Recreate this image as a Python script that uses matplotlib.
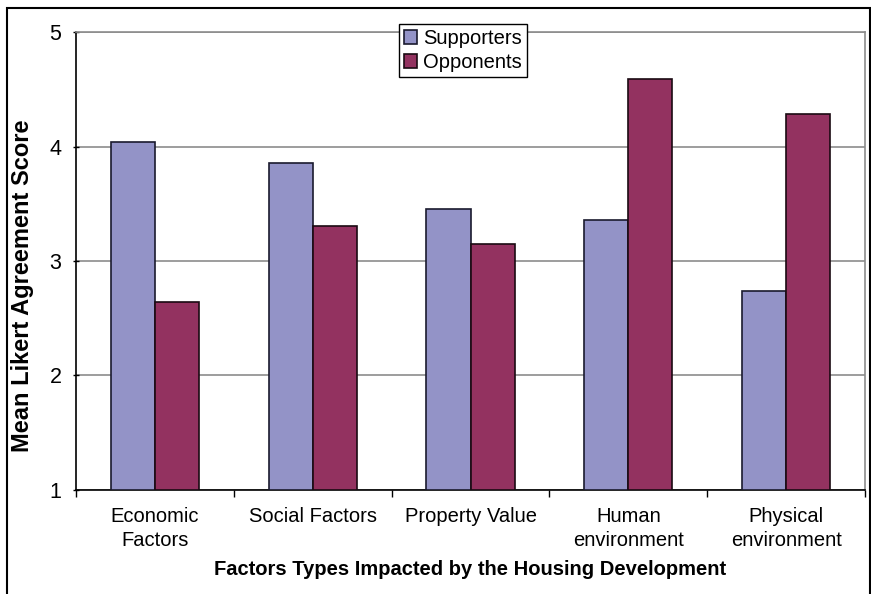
import numpy as np
import matplotlib.pyplot as plt
from matplotlib.patches import Rectangle

# mean scores per factor type
categories = ["Economic\nFactors", "Social Factors", "Property Value",
              "Human\nenvironment", "Physical\nenvironment"]
supporters = [4.04, 3.86, 3.45, 3.36, 2.74]
opponents = [2.64, 3.31, 3.15, 4.59, 4.28]

plt.rcParams['font.family'] = ['Liberation Sans', 'DejaVu Sans']

fig = plt.figure(figsize=(8.71, 5.94), dpi=100)
ax = fig.add_axes([0.0873, 0.1751, 0.9058, 0.7710])

x = np.arange(len(categories))
w = 0.28
ax.bar(x - w / 2, np.array(supporters) - 1, w, bottom=1, color='#9393c7',
       edgecolor='#1a1a2e', linewidth=1.2, label='Supporters', zorder=3)
ax.bar(x + w / 2, np.array(opponents) - 1, w, bottom=1, color='#933260',
       edgecolor='#1a0a12', linewidth=1.2, label='Opponents', zorder=3)

ax.set_xlim(-0.5, len(categories) - 0.5)
ax.set_ylim(1, 5)
ax.set_yticks([1, 2, 3, 4, 5])
ax.yaxis.grid(True, color='#8c8c8c', linewidth=1.2, zorder=0)

ax.set_xticks(x)
ax.set_xticklabels(categories, fontsize=14.5, linespacing=1.35)
ax.set_xticks(np.arange(-0.5, len(categories)), minor=True)
ax.tick_params(axis='x', which='major', length=0, pad=12)
ax.tick_params(axis='x', which='minor', length=5, direction='out', width=1)
ax.tick_params(axis='y', labelsize=15.5, length=5, direction='inout', width=1, pad=8)

for s in ['top', 'right']:
    ax.spines[s].set_color('#8c8c8c')
    ax.spines[s].set_linewidth(1.2)
for s in ['left', 'bottom']:
    ax.spines[s].set_color('black')
    ax.spines[s].set_linewidth(1.2)

ax.set_xlabel('Factors Types Impacted by the Housing Development',
              fontsize=14.5, fontweight='bold', labelpad=7)
ax.set_ylabel('Mean Likert Agreement Score', fontsize=17,
              fontweight='bold', va='center')
ax.yaxis.set_label_coords(-0.068, 0.445)

leg = ax.legend(loc='upper left', bbox_to_anchor=(399 / 871, 1 - 24 / 594),
                bbox_transform=fig.transFigure, fontsize=14.5, frameon=True,
                fancybox=False, framealpha=1, edgecolor='black',
                handlelength=0.65, handleheight=0.65, handletextpad=0.3,
                borderpad=0.25, labelspacing=0.25, borderaxespad=0)
leg.get_frame().set_linewidth(1)
leg.set_zorder(5)

# outer chart border
fig.patches.append(Rectangle((7 / 871, -0.05), 863 / 871, 1.05 - 8 / 594,
                             transform=fig.transFigure, fill=False,
                             edgecolor='black', linewidth=1.5))

fig.savefig('out.png', dpi=100)
